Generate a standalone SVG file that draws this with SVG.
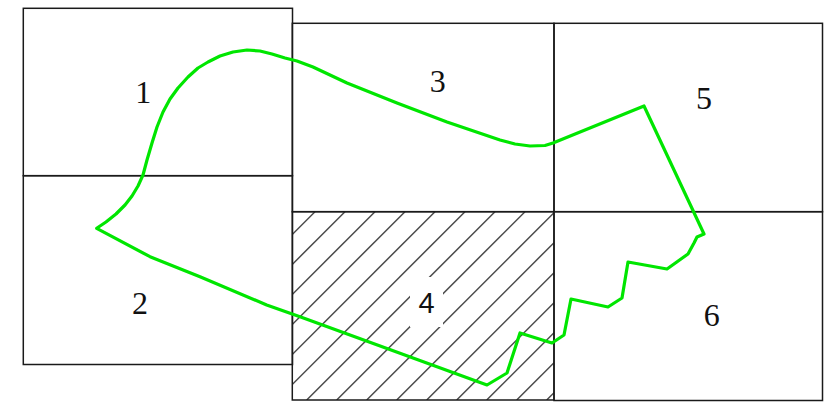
<svg xmlns="http://www.w3.org/2000/svg" width="825" height="405" viewBox="0 0 825 405">
  <style>
    .box { fill: none; stroke: #1a1a1a; stroke-width: 1.5; }
    .lbl { font-family: "Liberation Serif", "Times New Roman", serif; font-size: 32px; fill: #111; text-anchor: middle; }
    .lbl-sans { font-family: "Liberation Sans", Arial, sans-serif; font-size: 29px; fill: #111; text-anchor: middle; }
    .hatch line { stroke: #4a4a4a; stroke-width: 1.5; }
    .route { fill: none; stroke: #00e600; stroke-width: 3.2; stroke-linejoin: round; stroke-linecap: round; }
  </style>
  <defs>
    <clipPath id="clip4">
      <rect x="292.3" y="211.7" width="261.7" height="188.3"/>
    </clipPath>
  </defs>
  <rect width="825" height="405" fill="#ffffff"/>

  <g id="zone4">
    <g class="hatch" clip-path="url(#clip4)">
      <line x1="126.7" y1="400" x2="315" y2="211.7"/>
      <line x1="156.7" y1="400" x2="345" y2="211.7"/>
      <line x1="186.7" y1="400" x2="375" y2="211.7"/>
      <line x1="216.7" y1="400" x2="405" y2="211.7"/>
      <line x1="246.7" y1="400" x2="435" y2="211.7"/>
      <line x1="276.7" y1="400" x2="465" y2="211.7"/>
      <line x1="306.7" y1="400" x2="495" y2="211.7"/>
      <line x1="336.7" y1="400" x2="525" y2="211.7"/>
      <line x1="366.7" y1="400" x2="555" y2="211.7"/>
      <line x1="396.7" y1="400" x2="585" y2="211.7"/>
      <line x1="426.7" y1="400" x2="615" y2="211.7"/>
      <line x1="456.7" y1="400" x2="645" y2="211.7"/>
      <line x1="486.7" y1="400" x2="675" y2="211.7"/>
      <line x1="516.7" y1="400" x2="705" y2="211.7"/>
      <line x1="546.7" y1="400" x2="735" y2="211.7"/>
    </g>
    <rect x="410" y="277" width="33" height="50" fill="#ffffff"/>
    <rect class="box" x="292.3" y="211.7" width="261.7" height="188.3"/>
    <text class="lbl-sans" x="426.5" y="313">4</text>
  </g>

  <g id="zone1">
    <rect class="box" x="23.3" y="8.3" width="269.2" height="167.4"/>
    <text class="lbl" x="143.3" y="102.5">1</text>
  </g>
  <g id="zone2">
    <rect class="box" x="23.3" y="175.7" width="269.2" height="188.8"/>
    <text class="lbl" x="140" y="314">2</text>
  </g>
  <g id="zone3">
    <rect class="box" x="292.3" y="23.3" width="261.7" height="188.4"/>
    <text class="lbl" x="437.7" y="92.3">3</text>
  </g>
  <g id="zone5">
    <rect class="box" x="554" y="23.3" width="268.5" height="188.4"/>
    <text class="lbl" x="704" y="108.5">5</text>
  </g>
  <g id="zone6">
    <rect class="box" x="554" y="211.7" width="268.5" height="188.8"/>
    <text class="lbl" x="711.7" y="326">6</text>
  </g>

  <g id="connectors">
    <path class="route" d="M96.7,228.3 L106,222 L116,214 L125,205 L132,196 L138,186 L143,175 L147,160 L152,143 L157,127 L163,112 L170,99 L178,88 L188,77 L198,68 L208,62 L220,56 L233,52 L247,50 L260,51 L272,54 L285,58 L297,61 L313,67 L347,83 L397,103 L447,122 L500,140 L515,144 L530,146 L545,145.5 L553,143 L644,106 L704,234 L697,237 L694,243 L688,254 L667,269 L628,262 L622,298 L608,307 L571,299 L564,335 L552,343 L520,333 L507,373 L487,385 L300,316.7 L266.7,305 L200,276.7 L150,256.7 Z"/>
  </g>
</svg>
